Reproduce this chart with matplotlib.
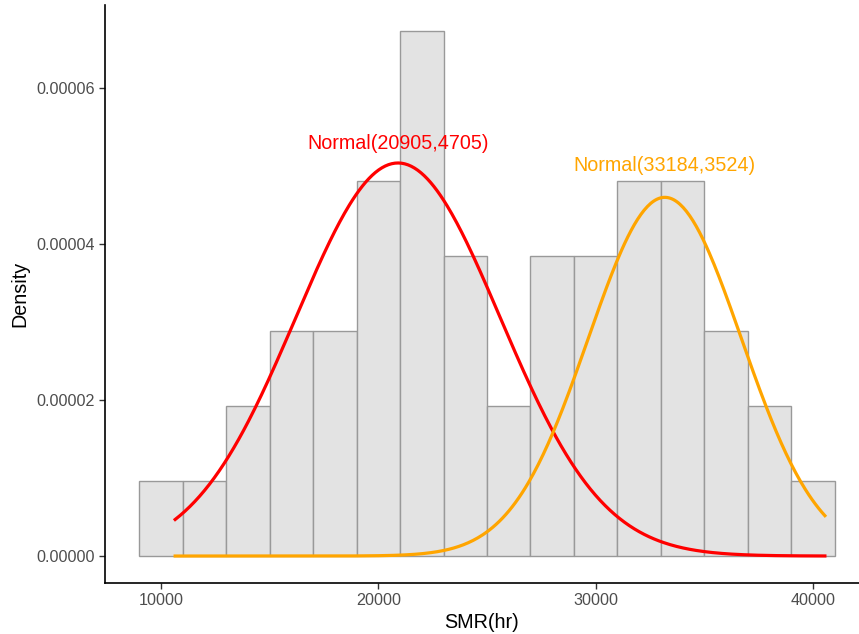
import numpy as np
import matplotlib.pyplot as plt

plt.rcParams['font.family'] = ['Liberation Sans', 'DejaVu Sans']

# histogram: bin edges (width 2000) and counts per bin, n = 52
bin_edges = [9000, 11000, 13000, 15000, 17000, 19000, 21000, 23000, 25000,
             27000, 29000, 31000, 33000, 35000, 37000, 39000, 41000]
counts = [1, 1, 2, 3, 3, 5, 7, 4, 2, 4, 4, 5, 5, 3, 2, 1]

# fitted mixture components
means = [20905, 33184]
sds = [4705, 3524]
weights = [0.594, 0.406]
colors = ["#FF0000", "#FFA500"]
x_range = [10650, 40550]
label_y = [0.0000529, 0.0000500]

n = sum(counts)
edges = np.array(bin_edges)
widths = np.diff(edges)
dens = np.array(counts) / (n * widths)

fig = plt.figure(figsize=(8.59, 6.34), dpi=100)
ax = fig.add_axes([0.1222, 0.0804, 0.8778, 0.9116])

ax.bar(edges[:-1], dens, width=widths, align="edge", color="#E3E3E3",
       edgecolor="#999999", linewidth=1.0, zorder=1)

xs = np.linspace(x_range[0], x_range[1], 400)
for m, s, w, c, ly in zip(means, sds, weights, colors, label_y):
    ys = w * np.exp(-0.5 * ((xs - m) / s) ** 2) / (s * np.sqrt(2 * np.pi))
    ax.plot(xs, ys, color=c, linewidth=2.3, zorder=3)
    ax.text(m, ly, "Normal(%d,%d)" % (m, s), color=c,
            fontsize=14.2, ha="center", va="center")

ax.set_xlim(7420, 42120)
ax.set_ylim(-0.00000346, 0.0000706)
ax.set_xticks([10000, 20000, 30000, 40000])
ax.set_yticks([0, 0.00002, 0.00004, 0.00006])
ax.set_yticklabels(["0.00000", "0.00002", "0.00004", "0.00006"])
ax.tick_params(colors="#4D4D4D", labelsize=11.6, length=4, width=1)
ax.tick_params(axis="both", color="#333333")
for side in ["top", "right"]:
    ax.spines[side].set_visible(False)
for side in ["left", "bottom"]:
    ax.spines[side].set_linewidth(1.2)
ax.set_xlabel("SMR(hr)", fontsize=14.2, labelpad=3)
ax.set_ylabel("Density", fontsize=14.2, labelpad=5)

fig.savefig("out.png", dpi=100)
